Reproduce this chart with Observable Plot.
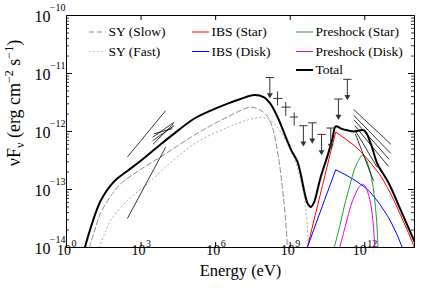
<!DOCTYPE html>
<html><head><meta charset="utf-8">
<script src="https://cdn.jsdelivr.net/npm/d3@7"></script>
<script src="https://cdn.jsdelivr.net/npm/@observablehq/plot@0.6"></script>
<style>
html,body{margin:0;padding:0;background:#fff;}
#chart{width:436px;height:291px;position:relative;}
#chart svg, #chart svg text, #chart svg tspan { font-family: "Liberation Serif", "Times New Roman", serif !important; }
</style></head><body><div id="chart"></div>
<script>
// ---- data (log10 energy [eV], log10 flux [erg cm^-2 s^-1]) ----
const totalLogE = [0.74,0.98,1.38,1.92,2.45,3.0,3.79,4.2,5.13,5.8,6.48,7.0,7.55,7.95,8.2,8.49,8.9,9.05,9.29,9.42,9.56,9.7,9.83,9.96,10.1,10.23,10.5,10.7,10.83,11.05,11.3,11.57,11.97,12.24,12.51,12.95,13.45,14.0];
const totalLogF = [-14,-13.65,-13.19,-12.86,-12.68,-12.5,-12.22,-12.08,-11.78,-11.64,-11.52,-11.44,-11.37,-11.41,-11.52,-11.75,-12.18,-12.33,-12.52,-12.73,-13.02,-13.24,-13.3,-13.22,-13.0,-12.78,-12.42,-12.12,-11.91,-11.95,-11.98,-12.0,-11.98,-12.21,-12.56,-12.88,-13.36,-13.9];

const sySlowLogE = [0.92,1.1,1.38,1.8,2.18,3.0,4.0,5.0,5.8,6.7,7.1,7.4,7.75,8.1,8.3,8.42,8.55,8.68,8.78,8.89];
const sySlowLogF = [-14,-13.75,-13.4,-13.1,-12.9,-12.65,-12.38,-12.1,-11.9,-11.7,-11.62,-11.58,-11.62,-11.75,-11.95,-12.18,-12.5,-12.95,-13.35,-14];

const syFastLogE = [1.31,1.5,1.78,2.45,3.26,4.2,5.27,6.48,7.3,7.82,8.22,8.62,8.9,9.15,9.35,9.5,9.6,9.68,9.73];
const syFastLogF = [-14,-13.8,-13.53,-13.19,-12.9,-12.53,-12.18,-11.93,-11.8,-11.76,-11.81,-12.01,-12.22,-12.45,-12.72,-12.98,-13.25,-13.6,-14];

const ibsStarLogE = [9.69,10.0,10.3,10.6,10.83,11.04,11.2,11.45,11.65,11.84,12.1,12.25,12.4,12.6,12.77,12.9,13.05,13.25,13.5,13.75,14.0];
const ibsStarLogF = [-14,-13.45,-12.93,-12.4,-12.01,-12.07,-12.12,-12.2,-12.27,-12.35,-12.47,-12.55,-12.63,-12.74,-12.86,-12.96,-13.08,-13.26,-13.5,-13.74,-14.0];

const ibsDiskLogE = [9.69,10.0,10.4,10.83,11.2,11.6,11.97,12.2,12.4,12.6,12.77,12.95,13.1,13.3,13.51];
const ibsDiskLogF = [-14,-13.63,-13.16,-12.66,-12.74,-12.84,-12.95,-13.04,-13.14,-13.25,-13.36,-13.48,-13.6,-13.78,-14.0];

const preStarLogE = [10.77,11.0,11.17,11.4,11.57,11.75,11.9,12.05,12.17,12.3,12.37,12.45,12.5,12.53];
const preStarLogF = [-14,-13.62,-13.3,-12.93,-12.67,-12.5,-12.41,-12.48,-12.62,-12.87,-13.07,-13.4,-13.7,-14];

const preDiskLogE = [10.99,11.2,11.44,11.6,11.75,11.9,12.0,12.1,12.2,12.28,12.35,12.4];
const preDiskLogF = [-14,-13.66,-13.28,-13.1,-12.97,-12.91,-12.93,-13.02,-13.17,-13.36,-13.65,-14];

// upper limits
const ulLogE = [8.18,9.53,9.89,10.26,10.63,10.94,11.30];
const ulLogF = [-11.07,-11.90,-11.85,-12.05,-11.94,-11.44,-11.10];

// data points with error bars
const ptLogE   = [8.49,8.82,9.16];
const ptLogELo = [8.32,8.65,8.98];
const ptLogEHi = [8.69,9.02,9.31];
const ptLogF   = [-11.43,-11.58,-11.75];
const ptLogFLo = [-11.55,-11.73,-11.90];
const ptLogFHi = [-11.31,-11.49,-11.67];

// butterfly (spectral bow-tie) lines: start and end points
const bowLogE1 = [2.45,2.45,3.46,3.46,3.48,3.52, 11.55,11.55,11.57,11.6,11.6,11.62];
const bowLogF1 = [-12.44,-13.5,-12.10,-12.16,-12.22,-12.04, -11.62,-11.72,-11.80,-11.9,-11.97,-12.04];
const bowLogE2 = [3.99,3.99,4.33,4.33,4.30,4.25, 13.05,13.05,12.98,12.95,12.5,12.35];
const bowLogF2 = [-11.64,-12.27,-11.84,-11.90,-11.87,-11.95, -12.22,-12.38,-12.48,-12.6,-12.62,-12.85];

// axis ticks
const xTickExp = [0,3,6,9,12];
const yTickExp = [-14,-13,-12,-11,-10];
const xLabel = "Energy (eV)";

// legend
const legendLabels = ["SY (Slow)","SY (Fast)","IBS (Star)","IBS (Disk)","Preshock (Star)","Preshock (Disk)","Total"];

// ---- build ----
const FONT = "Liberation Serif, Times New Roman, serif";
const COL = {slow:"#8a8a8a", fast:"#a8a8a8", red:"#ff0000", blue:"#0000ff", green:"#1f9f1f", mag:"#e600e6", total:"#000", ul:"#333"};
const rows = (lx, ly) => lx.map((v,i) => ({x: 10**v, y: 10**ly[i]}));
const total = rows(totalLogE,totalLogF);
const slow = rows(sySlowLogE,sySlowLogF);
const fast = rows(syFastLogE,syFastLogF);
const ibsS = rows(ibsStarLogE,ibsStarLogF);
const ibsD = rows(ibsDiskLogE,ibsDiskLogF);
const preS = rows(preStarLogE,preStarLogF);
const preD = rows(preDiskLogE,preDiskLogF);
const uls = rows(ulLogE,ulLogF);
const pts = ptLogE.map((v,i)=>({x:10**v, xlo:10**ptLogELo[i], xhi:10**ptLogEHi[i], y:10**ptLogF[i], ylo:10**ptLogFLo[i], yhi:10**ptLogFHi[i]}));
const bows = bowLogE1.map((v,i)=>({x1:10**v, y1:10**bowLogF1[i], x2:10**bowLogE2[i], y2:10**bowLogF2[i]}));

const xTicks = xTickExp.map(e=>10**e);
const yTicks = yTickExp.map(e=>10**e);
const yMinor = [];
for (let k=-14;k<-10;k++) for (let d=2; d<=9; d++) yMinor.push(d*10**k);

const W=436, H=291, mL=66, mR=22, mT=15, mB=44;
const pxPerDecX = (W-mL-mR)/14, pxPerDecY = (H-mT-mB)/4;
const xOff = px => 10**(px/pxPerDecX);
const yOff = px => 10**(px/pxPerDecY);
const expStr = e => String(e).replace("-", "\u2212");

const chart = Plot.plot({
  width: W, height: H,
  marginLeft: mL, marginRight: mR, marginTop: mT, marginBottom: mB,
  x: {type:"log", domain:[1,1e14], axis:null},
  y: {type:"log", domain:[1e-14,1e-10], axis:null},
  style: {fontFamily: FONT, background:"#fff", overflow:"visible"},
  marks: [
    // inward ticks
    Plot.ruleX(xTicks, {x: d=>d, y1: 1e-14, y2: 1e-14*yOff(5), stroke:"#000"}),
    Plot.ruleX(xTicks, {x: d=>d, y1: 1e-10, y2: 1e-10/yOff(5), stroke:"#000"}),
    Plot.ruleY(yTicks, {y: d=>d, x1: 1, x2: xOff(6), stroke:"#000"}),
    Plot.ruleY(yTicks, {y: d=>d, x1: 1e14, x2: 1e14/xOff(6), stroke:"#000"}),
    Plot.ruleY(yMinor, {y: d=>d, x1: 1, x2: xOff(3), stroke:"#000", strokeWidth:0.8}),
    Plot.ruleY(yMinor, {y: d=>d, x1: 1e14, x2: 1e14/xOff(3), stroke:"#000", strokeWidth:0.8}),
    // tick labels
    Plot.text(xTicks.filter(d=>d<1e10), {x:d=>d, frameAnchor:"bottom", text:()=>"10", textAnchor:"end", dx:4.5, dy:7.5, fontSize:14}),
    Plot.text(xTicks.filter(d=>d<1e10), {x:d=>d, frameAnchor:"bottom", text:d=>expStr(Math.round(Math.log10(d))), textAnchor:"start", dx:5, dy:-0.5, fontSize:10}),
    Plot.text(xTicks.filter(d=>d>1e10), {x:d=>d, frameAnchor:"bottom", text:()=>"10", textAnchor:"end", dx:2, dy:7.5, fontSize:14}),
    Plot.text(xTicks.filter(d=>d>1e10), {x:d=>d, frameAnchor:"bottom", text:d=>expStr(Math.round(Math.log10(d))), textAnchor:"start", dx:2.5, dy:-0.5, fontSize:10}),
    Plot.text(yTicks, {y:d=>d, frameAnchor:"left", text:()=>"10", textAnchor:"end", dx:-16, dy:1, fontSize:16}),
    Plot.text(yTicks, {y:d=>d, frameAnchor:"left", text:d=>expStr(Math.round(Math.log10(d))), textAnchor:"end", dx:-1, dy:-8, fontSize:10}),
    Plot.text([xLabel], {frameAnchor:"bottom", text:d=>d, dy:28, fontSize:16.5}),
    // model curves
    Plot.line(slow, {x:"x", y:"y", stroke:COL.slow, strokeWidth:1, strokeDasharray:"5,3", curve:"catmull-rom", clip:true}),
    Plot.line(fast, {x:"x", y:"y", stroke:COL.fast, strokeWidth:1, strokeDasharray:"1.2,3", curve:"catmull-rom", clip:true}),
    Plot.line(ibsS, {x:"x", y:"y", stroke:COL.red, strokeWidth:1, clip:true}),
    Plot.line(ibsD, {x:"x", y:"y", stroke:COL.blue, strokeWidth:1, clip:true}),
    Plot.line(preS, {x:"x", y:"y", stroke:COL.green, strokeWidth:1, curve:"catmull-rom", clip:true}),
    Plot.line(preD, {x:"x", y:"y", stroke:COL.mag, strokeWidth:1, curve:"catmull-rom", clip:true}),
    // bow ties
    Plot.link(bows, {x1:"x1", y1:"y1", x2:"x2", y2:"y2", stroke:"#000", strokeWidth:0.8}),
    // total
    Plot.line(total, {x:"x", y:"y", stroke:COL.total, strokeWidth:2, curve:"catmull-rom", clip:true}),
    // upper limits
    Plot.link(uls, {x1:d=>d.x/xOff(4.2), x2:d=>d.x*xOff(4.2), y1:"y", y2:"y", stroke:COL.ul, strokeWidth:1}),
    Plot.link(uls, {x1:"x", x2:"x", y1:"y", y2:d=>d.y/yOff(17), stroke:COL.ul, strokeWidth:1}),
    Plot.dot(uls, {x:"x", y:d=>d.y/yOff(19), symbol:"triangle", rotate:180, r:2.2, fill:COL.ul, stroke:"none", dy:-1.5}),
    // data points
    Plot.link(pts, {x1:"xlo", x2:"xhi", y1:"y", y2:"y", stroke:COL.ul, strokeWidth:1}),
    Plot.link(pts, {x1:"x", x2:"x", y1:"ylo", y2:"yhi", stroke:COL.ul, strokeWidth:1}),
    Plot.frame({stroke:"#000", strokeWidth:1})
  ]
});

const svg = d3.select(chart);
// y-axis title
const yt = svg.append("text")
  .attr("transform", "translate(20,103) rotate(-90)")
  .attr("text-anchor","middle")
  .attr("font-size", 18).attr("fill","#000");
yt.append("tspan").text("\u03BDF");
yt.append("tspan").attr("font-size",12).attr("dy",4).text("\u03BD");
yt.append("tspan").attr("dy",-4).text(" (erg cm");
yt.append("tspan").attr("font-size",12).attr("dy",-7).text("\u22122");
yt.append("tspan").attr("dy",7).text(" s");
yt.append("tspan").attr("font-size",12).attr("dy",-7).text("\u22121");
yt.append("tspan").attr("dy",7).text(")");

// legend
const legendStyle = [
  {stroke:COL.slow, dash:"5,3", w:1},
  {stroke:COL.fast, dash:"1.2,3", w:1},
  {stroke:COL.red, dash:null, w:1},
  {stroke:COL.blue, dash:null, w:1},
  {stroke:COL.green, dash:null, w:1},
  {stroke:COL.mag, dash:null, w:1},
  {stroke:"#000", dash:null, w:2}
];
const legendCol = [0,0,1,1,2,2,2], legendRow = [0,1,0,1,0,1,2];
const colX = [89,192,296], rowY = [32,51.5,70];
const lg = svg.append("g").attr("font-size", 13.5).attr("text-anchor","start");
legendLabels.forEach((lab,i)=>{
  const x = colX[legendCol[i]], y = rowY[legendRow[i]];
  const s = legendStyle[i];
  lg.append("line").attr("x1",x).attr("x2",x+17).attr("y1",y).attr("y2",y)
    .attr("stroke",s.stroke).attr("stroke-width",s.w).attr("stroke-dasharray",s.dash);
  lg.append("text").attr("x",x+19.5).attr("y",y).attr("dy","0.33em").attr("text-anchor","start").attr("fill","#000").text(lab);
});

document.getElementById("chart").appendChild(chart);
</script></body></html>
